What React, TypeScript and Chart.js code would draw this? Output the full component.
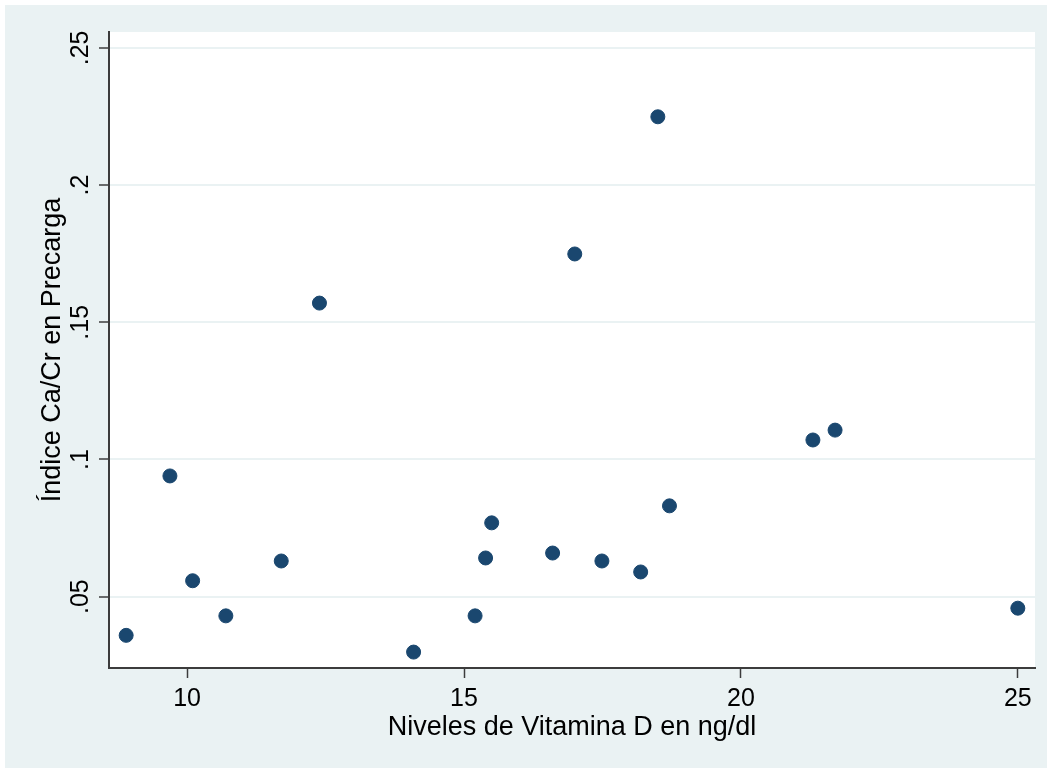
import React, { useEffect, useRef } from "react";
import { Chart, registerables } from "chart.js";

Chart.register(...registerables);

const vitaminD = [8.9, 9.69, 10.1, 10.7, 11.7, 12.39, 14.09, 15.2, 15.39, 15.5, 16.6, 17.0, 17.49, 18.19, 18.5, 18.71, 21.3, 21.7, 25.0];
const caCr = [0.0359, 0.094, 0.0558, 0.043, 0.063, 0.157, 0.0298, 0.043, 0.0641, 0.0769, 0.0659, 0.1749, 0.063, 0.059, 0.2249, 0.0831, 0.1071, 0.1107, 0.0458];

const xTickValues = [10, 15, 20, 25];
const xTickLabels = ["10", "15", "20", "25"];
const yTickValues = [0.05, 0.1, 0.15, 0.2, 0.25];
const yTickLabels = [".05", ".1", ".15", ".2", ".25"];

const xTitle = "Niveles de Vitamina D en ng/dl";
const yTitle = "Índice Ca/Cr en Precarga";

const FONT = "'Liberation Sans', Arial, Helvetica, sans-serif";
const BG = "#EAF2F3";
const AXIS = "#3c3c3c";
const MARKER = "#1A476F";

export default function App() {
  const canvasRef = useRef<HTMLCanvasElement | null>(null);

  useEffect(() => {
    document.body.style.margin = "0";
    const canvas = canvasRef.current;
    if (!canvas) return;

    const bgPlugin = {
      id: "stataBg",
      beforeDraw(chart: any) {
        const { ctx, chartArea } = chart;
        ctx.save();
        ctx.fillStyle = "#ffffff";
        ctx.fillRect(0, 0, chart.width, chart.height);
        ctx.fillStyle = BG;
        ctx.fillRect(5, 5, chart.width - 5, chart.height - 6);
        ctx.fillStyle = "#ffffff";
        ctx.fillRect(chartArea.left, chartArea.top, chartArea.right - chartArea.left, chartArea.bottom - chartArea.top);
        ctx.restore();
      },
      afterDraw(chart: any) {
        const { ctx, chartArea } = chart;
        const xs = chart.scales.x;
        const ys = chart.scales.y;
        ctx.save();
        ctx.fillStyle = "#000000";
        ctx.font = `25px ${FONT}`;
        ctx.textAlign = "center";
        ctx.textBaseline = "alphabetic";
        xTickValues.forEach((v, i) => {
          ctx.fillText(xTickLabels[i], xs.getPixelForValue(v), 706);
        });
        yTickValues.forEach((v, i) => {
          ctx.save();
          ctx.translate(88, ys.getPixelForValue(v));
          ctx.rotate(-Math.PI / 2);
          ctx.fillText(yTickLabels[i], 0, 0);
          ctx.restore();
        });
        ctx.font = `27px ${FONT}`;
        ctx.fillText(xTitle, (chartArea.left + chartArea.right) / 2, 735);
        ctx.save();
        ctx.translate(60, (chartArea.top + chartArea.bottom) / 2);
        ctx.rotate(-Math.PI / 2);
        ctx.fillText(yTitle, 0, 0);
        ctx.restore();
        ctx.restore();
      },
    };

    const chart = new Chart(canvas, {
      type: "scatter",
      data: {
        datasets: [
          {
            data: vitaminD.map((x, i) => ({ x, y: caCr[i] })),
            backgroundColor: MARKER,
            borderColor: MARKER,
            borderWidth: 1,
            pointRadius: 7,
            pointHoverRadius: 7,
          },
        ],
      },
      options: {
        animation: false,
        responsive: false,
        maintainAspectRatio: false,
        devicePixelRatio: 1,
        layout: { padding: { top: 32, right: 12, left: 0, bottom: 0 } },
        plugins: { legend: { display: false }, tooltip: { enabled: false } },
        scales: {
          x: {
            type: "linear",
            min: 8.59,
            max: 25.31,
            afterBuildTicks: (s: any) => {
              s.ticks = xTickValues.map((v) => ({ value: v }));
            },
            afterFit: (s: any) => {
              s.height = 101;
            },
            ticks: { display: false },
            grid: {
              drawOnChartArea: false,
              drawTicks: true,
              tickLength: 10,
              tickColor: AXIS,
              tickWidth: 1.5,
            },
            border: { color: AXIS, width: 2 },
          },
          y: {
            type: "linear",
            min: 0.024,
            max: 0.2558,
            afterBuildTicks: (s: any) => {
              s.ticks = yTickValues.map((v) => ({ value: v }));
            },
            afterFit: (s: any) => {
              s.width = 109;
            },
            ticks: { display: false },
            grid: {
              color: BG,
              lineWidth: 2,
              drawTicks: true,
              tickLength: 10,
              tickColor: AXIS,
              tickWidth: 1.5,
            },
            border: { color: AXIS, width: 2 },
          },
        },
      },
      plugins: [bgPlugin],
    });

    return () => chart.destroy();
  }, []);

  return (
    <div style={{ width: 1047, height: 769 }}>
      <canvas ref={canvasRef} width={1047} height={769} style={{ display: "block", width: 1047, height: 769 }} />
    </div>
  );
}
